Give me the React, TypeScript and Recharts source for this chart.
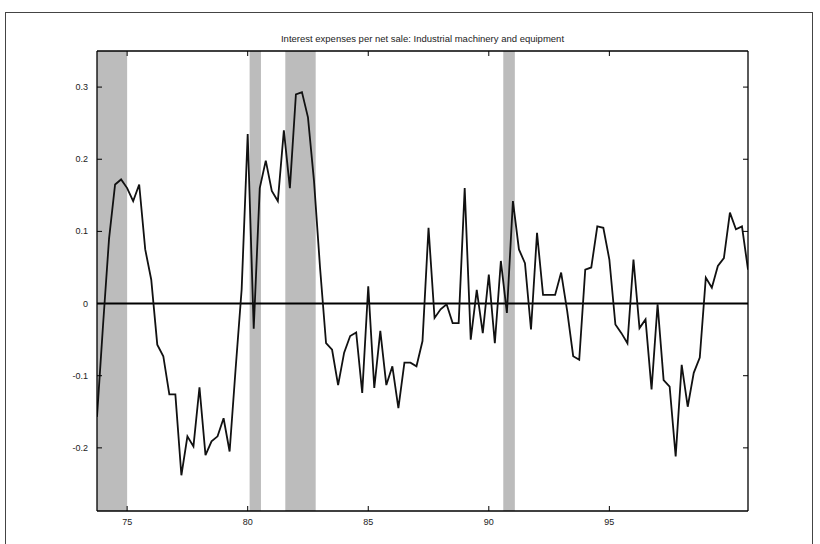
import React from 'react';
import {
  LineChart,
  Line,
  XAxis,
  YAxis,
  ReferenceArea,
  ReferenceLine,
} from 'recharts';

// quarterly series, first quarter = 1973Q4
const START_YEAR = 73.75;

const VALUES = [
  -0.157, -0.03, 0.09, 0.165, 0.172, 0.16, 0.142, 0.165, 0.075, 0.033,
  -0.057, -0.073, -0.126, -0.126, -0.238, -0.184, -0.198, -0.116, -0.21, -0.191,
  -0.184, -0.159, -0.205, -0.09, 0.02, 0.235, -0.035, 0.16, 0.198, 0.156,
  0.142, 0.24, 0.16, 0.29, 0.293, 0.258, 0.17, 0.05, -0.055, -0.064,
  -0.113, -0.068, -0.045, -0.04, -0.124, 0.024, -0.117, -0.038, -0.113, -0.087,
  -0.145, -0.082, -0.082, -0.087, -0.052, 0.105, -0.02, -0.008, -0.001, -0.027,
  -0.027, 0.16, -0.05, 0.019, -0.041, 0.04, -0.055, 0.059, -0.013, 0.142,
  0.075, 0.056, -0.036, 0.098, 0.012, 0.012, 0.012, 0.043, -0.01, -0.073,
  -0.078, 0.047, 0.05, 0.107, 0.105, 0.061, -0.029, -0.041, -0.055, 0.061,
  -0.034, -0.022, -0.119, -0.001, -0.106, -0.115, -0.212, -0.085, -0.143, -0.096,
  -0.075, 0.036, 0.022, 0.052, 0.063, 0.126, 0.103, 0.107, 0.047,
];

// shaded recession periods
const RECESSION_START = [73.75, 80.08, 81.56, 90.6];
const RECESSION_END = [75.0, 80.55, 82.82, 91.08];

const X_TICKS = [75, 80, 85, 90, 95];
const Y_TICKS = [-0.2, -0.1, 0, 0.1, 0.2, 0.3];

const X_DOMAIN: [number, number] = [73.75, 100.75];
const Y_DOMAIN: [number, number] = [-0.2875, 0.35];

const data = VALUES.map((v, i) => ({ t: START_YEAR + i / 4, v }));

const FONT = '"Liberation Sans", Arial, sans-serif';
const TICK_LEN = 5;

function BottomTick(props: any) {
  const { x, y, payload } = props;
  return (
    <g>
      <line x1={x} y1={y} x2={x} y2={y - TICK_LEN} stroke="#000" strokeWidth={1} />
      <text x={x} y={y + 14} textAnchor="middle" fontSize={9} fill="#222" fontFamily={FONT}>
        {payload.value}
      </text>
    </g>
  );
}

function TopTick(props: any) {
  const { x, y } = props;
  return <line x1={x} y1={y} x2={x} y2={y + TICK_LEN} stroke="#000" strokeWidth={1} />;
}

function LeftTick(props: any) {
  const { x, y, payload } = props;
  return (
    <g>
      <line x1={x} y1={y} x2={x + TICK_LEN} y2={y} stroke="#000" strokeWidth={1} />
      <text x={x - 9} y={y + 3} textAnchor="end" fontSize={9} fill="#222" fontFamily={FONT}>
        {payload.value}
      </text>
    </g>
  );
}

function RightTick(props: any) {
  const { x, y } = props;
  return <line x1={x} y1={y} x2={x - TICK_LEN} y2={y} stroke="#000" strokeWidth={1} />;
}

export default function App() {
  return (
    <div style={{ position: 'absolute', left: 0, top: 0, width: 820, height: 544, background: '#fff', overflow: 'hidden' }}>
      <div
        style={{
          position: 'absolute',
          left: 5,
          top: 12,
          width: 806,
          height: 540,
          borderLeft: '1.5px solid #444',
          borderTop: '1.5px solid #444',
          borderRight: '1.5px solid #444',
        }}
      />
      <div
        style={{
          position: 'absolute',
          left: 97,
          width: 651,
          top: 33,
          textAlign: 'center',
          fontFamily: FONT,
          fontSize: 9.5,
          color: '#222',
        }}
      >
        Interest expenses per net sale: Industrial machinery and equipment
      </div>
      <LineChart
        width={820}
        height={544}
        data={data}
        margin={{ top: 50, right: 71, bottom: 3, left: 0 }}
        style={{ position: 'absolute', left: 0, top: 0 }}
      >
        <XAxis
          dataKey="t"
          type="number"
          domain={X_DOMAIN}
          allowDataOverflow
          ticks={X_TICKS}
          tickSize={0}
          tickMargin={0}
          tickLine={false}
          tick={<BottomTick />}
          axisLine={{ stroke: '#000', strokeWidth: 1.3 }}
          height={30}
        />
        <XAxis
          xAxisId="top"
          orientation="top"
          dataKey="t"
          type="number"
          domain={X_DOMAIN}
          allowDataOverflow
          ticks={X_TICKS}
          tickSize={0}
          tickMargin={0}
          tickLine={false}
          tick={<TopTick />}
          axisLine={{ stroke: '#000', strokeWidth: 1.3 }}
          height={1}
        />
        <YAxis
          type="number"
          domain={Y_DOMAIN}
          allowDataOverflow
          ticks={Y_TICKS}
          tickSize={0}
          tickMargin={0}
          tickLine={false}
          tick={<LeftTick />}
          axisLine={{ stroke: '#000', strokeWidth: 1.3 }}
          width={97}
        />
        <YAxis
          yAxisId="right"
          orientation="right"
          type="number"
          domain={Y_DOMAIN}
          allowDataOverflow
          ticks={Y_TICKS}
          tickSize={0}
          tickMargin={0}
          tickLine={false}
          tick={<RightTick />}
          axisLine={{ stroke: '#000', strokeWidth: 1.3 }}
          width={1}
        />
        {RECESSION_START.map((s, i) => (
          <ReferenceArea
            key={i}
            x1={s}
            x2={RECESSION_END[i]}
            fill="#bcbcbc"
            fillOpacity={1}
            stroke="none"
          />
        ))}
        <ReferenceLine y={0} stroke="#000" strokeWidth={2} />
        <Line
          type="linear"
          dataKey="v"
          stroke="#111"
          strokeWidth={1.8}
          dot={false}
          isAnimationActive={false}
        />
      </LineChart>
    </div>
  );
}
